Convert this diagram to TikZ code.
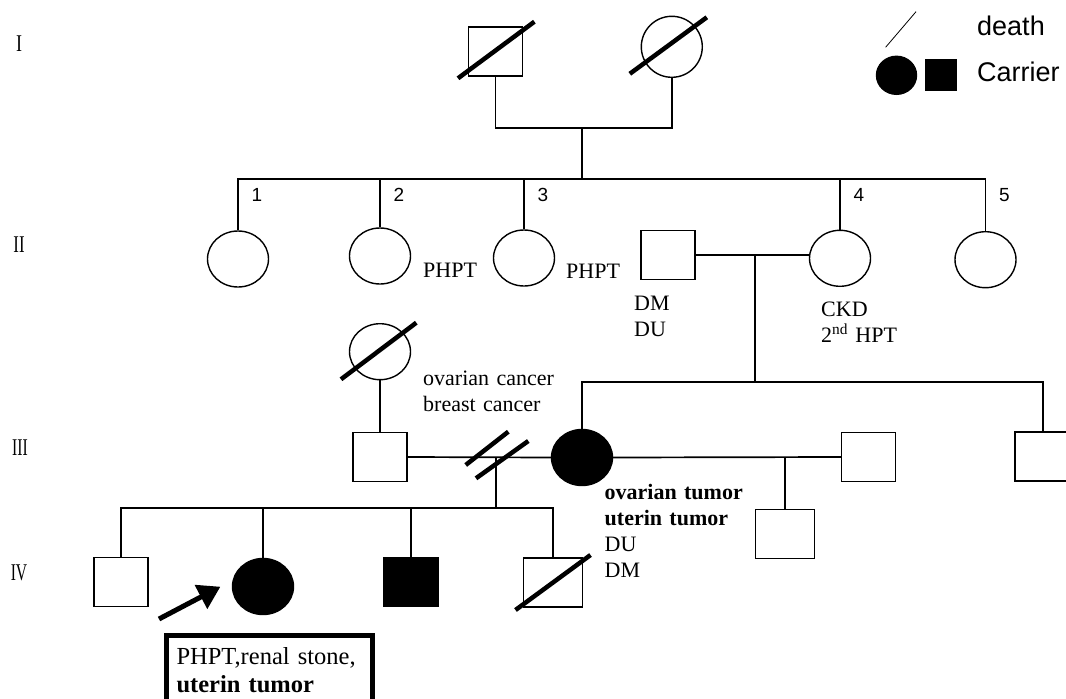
\documentclass[tikz,border=0pt]{standalone}
\usepackage{fontspec}
\setmainfont{Liberation Serif}
\setsansfont{Liberation Sans}
\usetikzlibrary{shapes,arrows.meta,positioning,calc}
\tikzset{
	male/.style={draw, rectangle, line width=1.4pt, minimum width=54pt, minimum height=49pt, inner sep=0pt}, % square for a man
	female/.style={draw, ellipse, line width=1.4pt, minimum width=61pt, minimum height=56pt, inner sep=0pt}, % circle for a woman
	carrier/.style={fill=black}, % filled symbol = carrier
	famline/.style={line width=1.7pt}, % lines between the symbols
	deathline/.style={line width=4.5pt}, % thick slash
	gen/.style={font=\fontsize{24}{24}\selectfont}, % generation numbers
	num/.style={font=\sffamily\fontsize{19}{19}\selectfont, inner sep=0pt},
	txt/.style={font=\fontsize{22}{26}\selectfont, text width=170pt, align=left, inner sep=0pt},
	legend/.style={font=\sffamily\fontsize{27}{27}\selectfont, inner sep=0pt},
	notebox/.style={draw, line width=5pt, font=\fontsize{24.5}{28}\selectfont, text width=186pt, align=left, inner xsep=9.6pt, inner ysep=12.5pt, text depth=50pt},
	proband/.style={line width=5pt, -{Triangle[length=22pt, width=26pt]}},
}

\begin{document}
\begin{tikzpicture}[x=1pt, y=-1pt]
	\useasboundingbox (0,0) rectangle (1066,699);

	% generations
	\node[gen] (GEN_I) at (19,44) {\scalebox{0.75}[1]{I}};
	\node[gen] (GEN_II) at (19,245) {\scalebox{0.7}[1]{II}};
	\node[gen] (GEN_III) at (20,448) {\scalebox{0.65}[1]{III}};
	\node[gen] (GEN_IV) at (19,573) {\scalebox{0.65}[1]{IV}};

	% generation I
	\node[male] (I_M) at (495.4,51.3) {};
	\node[female, minimum height=61pt] (I_F) at (671.8,46.8) {};
	\coordinate (I_MID) at (582,128.3);
	\coordinate (II_SIB) at (582,179);
	\draw[famline] (I_M.south) |- (I_MID) -| (I_F.south);
	\draw[famline] (I_MID) -- (II_SIB);

	% generation II
	\node[female] (II_1) at (238,259) {};
	\node[female] (II_2) at (380,256) {};
	\node[female] (II_3) at (524,258) {};
	\node[male] (II_H) at (668,255) {};
	\node[female] (II_4) at (840,258.3) {};
	\node[female] (II_5) at (985.5,259.7) {};
	\draw[famline] (II_1.north) |- (II_SIB) -| (II_5.north);
	\foreach \n in {II_2,II_3,II_4}
		\draw[famline] (\n.north) -- (\n.north |- II_SIB);
	\foreach \n/\k in {II_1/1,II_2/2,II_3/3,II_4/4,II_5/5}
		\node[num] (NUM_\k) at ($(\n.north |- II_SIB)+(19,16)$) {\k};
	\node[txt, anchor=base west] (T_II2) at (423,277.7) {PHPT};
	\node[txt, anchor=base west] (T_II3) at (566,278.3) {PHPT};
	\node[txt, anchor=base west] (T_IIH) at (634,310.7) {DM\\DU};
	\node[txt, anchor=base west] (T_II4) at (821,316.5) {CKD\\2\textsuperscript{nd} HPT};
	\coordinate (II_MID) at (755,255);
	\coordinate (III_SIB) at (755,382);
	\draw[famline] (II_H.east) -- (II_H.east -| II_4.west);
	\draw[famline] (II_MID) -- (III_SIB);

	% generation III
	\node[female] (III_GM) at (380,351.7) {};
	\node[male] (III_1) at (380,457) {};
	\node[female, carrier] (III_2) at (582,457.5) {};
	\node[male] (III_3) at (868.6,457) {};
	\node[male, minimum width=76pt] (III_4) at (1053,456.3) {}; % cut by the page edge
	\coordinate (III_4_TOP) at (1043,432);
	\draw[famline] (III_GM.south) -- (III_1.north);
	\draw[famline] (III_2.north) |- (III_SIB) -| (III_4_TOP);
	\draw[famline] (III_1.east) -- (III_2.west);
	\draw[famline] (III_2.east) -- (III_3.west);
	\node[txt, anchor=base west] (T_GM) at (423,385) {ovarian cancer\\breast cancer};
	\node[txt, anchor=base west] (T_III2) at (604.5,499) {\textbf{ovarian tumor}\\\textbf{uterin tumor}\\DU\\DM};
	\coordinate (III_DIV) at (495.7,457);
	\coordinate (IV_SIB) at (495.7,507.7);
	\coordinate (III_MID) at (784.8,457);
	\draw[famline] (III_DIV) -- (IV_SIB);
	\draw[deathline] ($(III_DIV)+(-30,8)$) -- ($(III_DIV)+(12.6,-25.3)$); % divorce
	\draw[deathline] ($(III_DIV)+(-19.7,21.3)$) -- ($(III_DIV)+(32.6,-16)$);

	% generation IV
	\node[male] (IV_1) at (121,582) {};
	\node[female, carrier] (IV_2) at (263,586.5) {};
	\node[male, carrier] (IV_3) at (411,581.7) {};
	\node[male, minimum width=59pt] (IV_4) at (553,582.5) {};
	\node[male, minimum width=59pt] (IV_5) at (784.8,533.7) {};
	\draw[famline] (IV_1.north) |- (IV_SIB) -| (IV_4.north);
	\foreach \n in {IV_2,IV_3}
		\draw[famline] (\n.north) -- (\n.north |- IV_SIB);
	\draw[famline] (III_MID) -- (IV_5.north);

	% deaths
	\draw[deathline] ($(I_M.center)+(-37.4,27)$) -- ($(I_M.center)+(39,-29.6)$);
	\draw[deathline] ($(I_F.center)+(-42,27)$) -- ($(I_F.center)+(35,-29.5)$);
	\draw[deathline] ($(III_GM.center)+(-39,27.6)$) -- ($(III_GM.center)+(36.3,-29)$);
	\draw[deathline] ($(IV_4.center)+(-37.5,27.5)$) -- ($(IV_4.center)+(37.5,-27.5)$);

	% proband
	\coordinate (ARROW_TAIL) at (159,619);
	\coordinate (ARROW_TIP) at (220.4,586.7);
	\draw[proband] (ARROW_TAIL) -- (ARROW_TIP);
	\node[notebox, anchor=north west] (NOTE) at (164.4,632.5) {PHPT,renal stone,\\\textbf{uterin tumor}};

	% legend
	\draw[line width=0.8pt] (885.6,47.3) -- (916,11.7);
	\node[legend, anchor=base west] (L_DEATH) at (977,35) {death};
	\node[female, carrier, minimum width=40pt, minimum height=38pt] (L_F) at (896.5,75.3) {};
	\node[male, carrier, minimum width=31pt, minimum height=31pt] (L_M) at (941,75) {};
	\node[legend, anchor=base west] (L_CARRIER) at (977,81.7) {Carrier};
\end{tikzpicture}
\end{document}
